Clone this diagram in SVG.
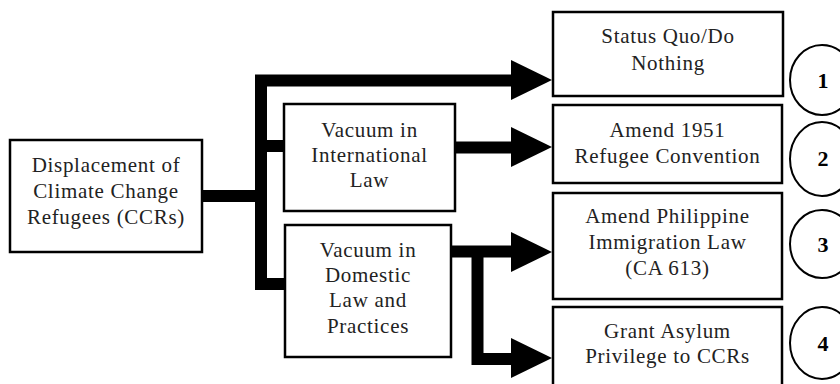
<svg xmlns="http://www.w3.org/2000/svg" width="840" height="384" viewBox="0 0 840 384">
<style>
.box{fill:#fff;stroke:#000;stroke-width:2.5}
.t{font-family:"Liberation Serif","Times New Roman",serif;font-size:21px;letter-spacing:0.7px;text-anchor:middle;fill:#222}
.c{fill:#fff;stroke:#000;stroke-width:2}
.n{font-family:"Liberation Serif","Times New Roman",serif;font-size:22px;font-weight:bold;text-anchor:middle;fill:#000}
.ln{fill:none;stroke:#000;stroke-width:12;stroke-linejoin:miter;stroke-linecap:butt}
.hd{fill:#000}
</style>
<rect width="840" height="384" fill="#fff"/>
<g id="connectors">
<path class="ln" d="M202,196 H261"/>
<path class="ln" d="M261,290 V80.5 H512"/>
<path class="ln" d="M261,146 H285"/>
<path class="ln" d="M261,200 V284 H286"/>
<path class="ln" d="M455,147.5 H512"/>
<path class="ln" d="M451,251.5 H512"/>
<path class="ln" d="M477.5,246 V359 H512"/>
<polygon class="hd" points="511,60 552,80 511,100"/>
<polygon class="hd" points="511,127 552,147 511,167"/>
<polygon class="hd" points="511,232 552,252 511,272"/>
<polygon class="hd" points="511,338 552,358 511,378"/>
</g>
<g id="displacement">
<rect class="box" x="10" y="140" width="192" height="112"/>
<text class="t" x="106" y="172">Displacement of</text>
<text class="t" x="106" y="198">Climate Change</text>
<text class="t" x="106" y="224">Refugees (CCRs)</text>
</g>
<g id="intl">
<rect class="box" x="284" y="104" width="171" height="107"/>
<text class="t" x="369.5" y="137">Vacuum in</text>
<text class="t" x="369.5" y="162">International</text>
<text class="t" x="369.5" y="187">Law</text>
</g>
<g id="domestic">
<rect class="box" x="285" y="225" width="166" height="132"/>
<text class="t" x="368" y="257">Vacuum in</text>
<text class="t" x="368" y="282">Domestic</text>
<text class="t" x="368" y="307">Law and</text>
<text class="t" x="368" y="333">Practices</text>
</g>
<g id="opt1">
<rect class="box" x="553" y="12" width="230" height="84"/>
<text class="t" x="668" y="43">Status Quo/Do</text>
<text class="t" x="668" y="70">Nothing</text>
</g>
<g id="opt2">
<rect class="box" x="553" y="105" width="229" height="78"/>
<text class="t" x="667.5" y="137">Amend 1951</text>
<text class="t" x="667.5" y="163">Refugee Convention</text>
</g>
<g id="opt3">
<rect class="box" x="553" y="193" width="229" height="106"/>
<text class="t" x="667.5" y="223">Amend Philippine</text>
<text class="t" x="667.5" y="249">Immigration Law</text>
<text class="t" x="667.5" y="275">(CA 613)</text>
</g>
<g id="opt4">
<rect class="box" x="553" y="307" width="229" height="82"/>
<text class="t" x="667.5" y="338">Grant Asylum</text>
<text class="t" x="667.5" y="363">Privilege to CCRs</text>
</g>
<g id="num1"><ellipse class="c" cx="822" cy="80" rx="32" ry="35"/><text class="n" x="823" y="88">1</text></g>
<g id="num2"><ellipse class="c" cx="822" cy="159" rx="32" ry="37"/><text class="n" x="823" y="166">2</text></g>
<g id="num3"><ellipse class="c" cx="822" cy="244" rx="32" ry="34"/><text class="n" x="823" y="252">3</text></g>
<g id="num4"><ellipse class="c" cx="822" cy="343" rx="32" ry="36"/><text class="n" x="823" y="351">4</text></g>
</svg>
